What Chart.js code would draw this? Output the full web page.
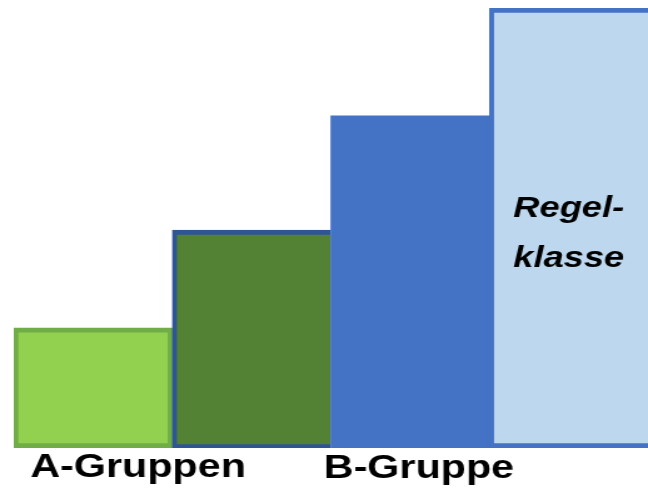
<!DOCTYPE html>
<html>
<head>
<meta charset="utf-8">
<script src="https://cdn.jsdelivr.net/npm/chart.js@4/dist/chart.umd.min.js"></script>
<style>
  html, body { margin: 0; padding: 0; background: #fff; }
  /* the reference is stretched sideways, so the canvas is drawn narrow and widened by css */
  #c { width: 648px !important; height: 492px !important; }
</style>
</head>
<body>
<canvas id="c" width="518" height="492" style="width:648px;height:492px"></canvas>
<script>
// data
const categories = ['A1', 'A2', 'B', 'Regelklasse'];
const values = [27.3, 49.5, 75.5, 100];
const groupLabels = ['A-Gruppen', '', 'B-Gruppe', ''];
const barText = ['Regel-', 'klasse'];

const fills = ['#92D050', '#548235', '#4472C4', '#BDD7EE'];
const edges = ['#70AD47', '#2F5597', '#4472C4', '#4472C4'];
const edgeW = [
  {top: 5, bottom: 5, left: 4, right: 4},
  {top: 5, bottom: 4, left: 4, right: 0},
  {top: 0, bottom: 0, left: 0, right: 0},
  {top: 5, bottom: 5, left: 4, right: 0}
];

// label shifts from the bar centre (canvas units)
const labelShift = [36, 0, 7, 0];

const textPlugin = {
  id: 'texts',
  afterDraw(chart) {
    const ctx = chart.ctx;
    const x = chart.scales.x;
    const bars = chart.getDatasetMeta(0).data;
    ctx.save();
    ctx.fillStyle = '#000';
    ctx.textAlign = 'center';
    ctx.textBaseline = 'alphabetic';
    ctx.font = 'bold 33px "Liberation Sans", Arial, sans-serif';
    groupLabels.forEach((t, i) => {
      if (!t) return;
      ctx.fillText(t, x.getPixelForValue(i) + labelShift[i], i === 0 ? 477 : 478);
    });
    // text inside the last bar
    const b = bars[3];
    ctx.font = 'italic bold 29px "Liberation Sans", Arial, sans-serif';
    ctx.fillText(barText[0], b.x, 217);
    ctx.fillText(barText[1], b.x, 267);
    ctx.restore();
  }
};

new Chart(document.getElementById('c'), {
  type: 'bar',
  data: {
    labels: categories,
    datasets: [{
      data: values,
      backgroundColor: fills,
      borderColor: edges,
      borderWidth: edgeW,
      borderSkipped: false,
      barPercentage: 1,
      categoryPercentage: 1
    }]
  },
  options: {
    responsive: false,
    animation: false,
    layout: { padding: { left: 11, right: 0, top: 8, bottom: 44 } },
    plugins: { legend: { display: false }, tooltip: { enabled: false } },
    scales: {
      x: { display: false },
      y: { display: false, min: 0, max: 100 }
    }
  },
  plugins: [textPlugin]
});
</script>
</body>
</html>
